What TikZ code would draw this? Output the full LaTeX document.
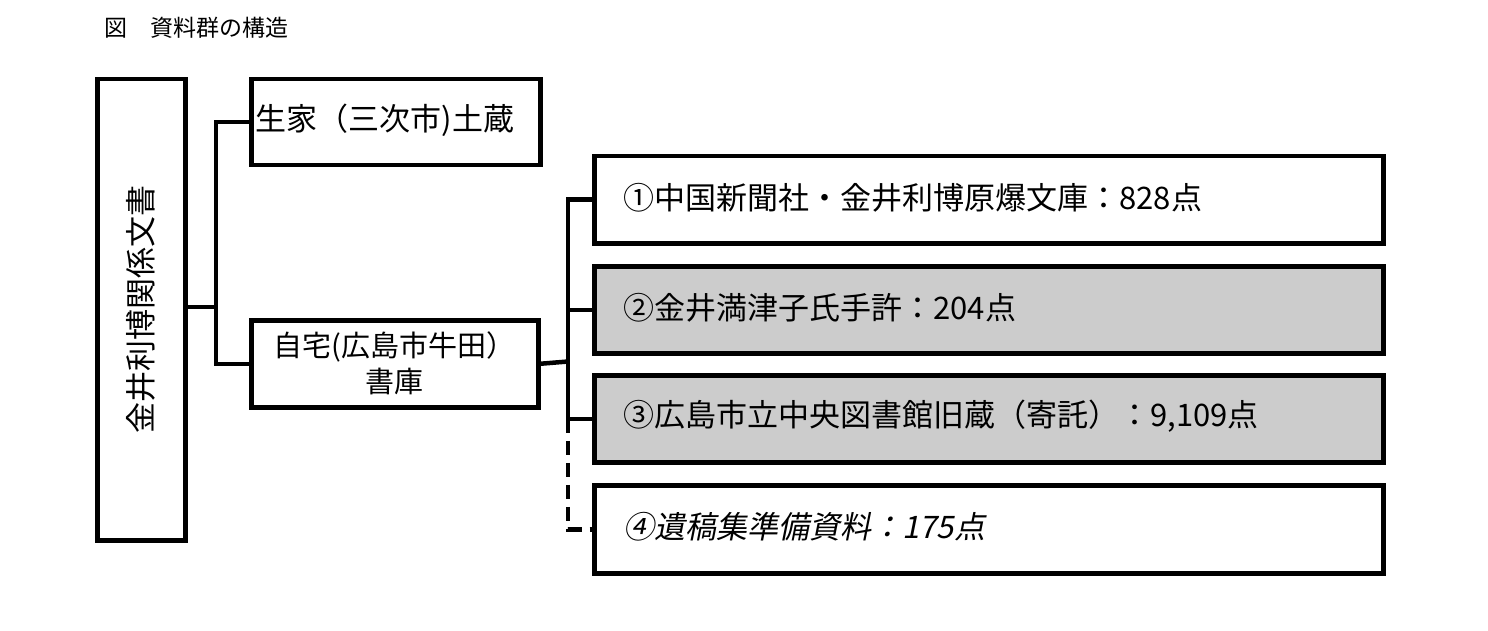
\documentclass[tikz,border=0pt]{standalone}
\usepackage{fontspec}
\newfontfamily\cjk{Noto Sans CJK JP}
\newfontfamily\cjkit[FakeSlant=0.2]{Noto Sans CJK JP}
\begin{document}
\begin{tikzpicture}[x=1pt,y=-1pt,
  bx/.style={draw,line width=4.5pt,anchor=north west,inner sep=0pt},
  ln/.style={line width=4.5pt},
  tx/.style={font=\cjk\fontsize{31}{36}\selectfont,anchor=west}]
\useasboundingbox (0,0) rectangle (1488,631);
\node[font=\cjk\fontsize{23}{28}\selectfont,anchor=west] (title) at (101,28) {図\hspace{1em}資料群の構造};
\node[bx,minimum width=88pt,minimum height=461pt] (L) at (95,77) {};
\node[font=\cjk\fontsize{31}{36}\selectfont,rotate=90] (Lt) at (L.center) {金井利博関係文書};
\node[bx,minimum width=289pt,minimum height=86pt] (A) at (249,77) {};
\node[tx] (At) at (252,120) {生家（三次市)土蔵};
\node[bx,minimum width=287pt,minimum height=87pt,align=center,font=\cjk\fontsize{29}{36}\selectfont] (B) at (249,318) {自宅(広島市牛田）\\書庫};
\node[bx,minimum width=789pt,minimum height=87pt] (C1) at (592,154) {};
\node[bx,fill=gray!40,minimum width=789pt,minimum height=87pt] (C2) at (592,264) {};
\node[bx,fill=gray!40,minimum width=789pt,minimum height=87pt] (C3) at (592,373) {};
\node[bx,minimum width=789pt,minimum height=88pt] (C4) at (592,483) {};
\node[tx] (t1) at (620,197.5) {①中国新聞社・金井利博原爆文庫：828点};
\node[tx] (t2) at (620,307.5) {②金井満津子氏手許：204点};
\node[tx] (t3) at (620,416.5) {③広島市立中央図書館旧蔵（寄託）：9,109点};
\node[tx,font=\cjkit\fontsize{31}{36}\selectfont] (t4) at (620,527) {④遺稿集準備資料：175点};
\coordinate (j1) at (216,307);
\coordinate (j2) at (568,361.5);
\draw[ln] (L.east|-j1) -- (j1);
\draw[ln] (A.west) -| (j1) |- (B.west);
\draw[ln] (B.east) -- (j2);
\draw[ln] (C1.west) -| (j2);
\draw[ln] (j2) |- (C3.west);
\draw[ln] (j2|-C2.west) -- (C2.west);
\draw[ln,dashed,dash pattern=on 14pt off 8pt] (j2|-C3.west) |- (C4.west);
\end{tikzpicture}
\end{document}
